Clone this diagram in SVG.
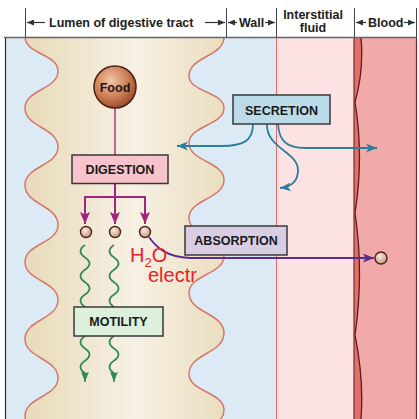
<svg xmlns="http://www.w3.org/2000/svg" width="419" height="419" viewBox="0 0 419 419">
<defs>
<style>
.hdr{font-family:"Liberation Sans",Arial,sans-serif;font-weight:bold;font-size:12.5px;fill:#222;}
.lbl{font-family:"Liberation Sans",Arial,sans-serif;font-weight:bold;font-size:12.5px;fill:#1a1a1a;text-anchor:middle;}
.box{stroke:#383838;stroke-width:1.5;}
.tick{stroke:#444;stroke-width:1;}
.harr{stroke:#333;stroke-width:1.2;marker-end:url(#mHdr);}
.teal{fill:none;stroke:#2d7d9c;stroke-width:1.8;marker-end:url(#mTeal);}
.mag{fill:none;stroke:#a3247c;stroke-width:2;}
.magA{fill:none;stroke:#a3247c;stroke-width:2;marker-end:url(#mMag);}
.green{fill:none;stroke:#2e8a55;stroke-width:1.8;}
.greenA{fill:none;stroke:#2e8a55;stroke-width:1.8;marker-end:url(#mGreen);}
.red{font-family:"Liberation Sans",Arial,sans-serif;font-size:20px;fill:#e8202a;}
.ball{fill:url(#gBall);stroke:#4a2418;stroke-width:1.4;}
.villus{fill:none;stroke:#d4786a;stroke-width:1.5;}
</style>
<linearGradient id="gLumen" x1="0" y1="0" x2="1" y2="0">
<stop offset="0" stop-color="#e8dab9"/>
<stop offset="0.55" stop-color="#f7f1e4"/>
<stop offset="1" stop-color="#ebdebf"/>
</linearGradient>
<radialGradient id="gFood" cx="0.4" cy="0.35" r="0.7">
<stop offset="0" stop-color="#f4c6a6"/>
<stop offset="0.6" stop-color="#c97a52"/>
<stop offset="1" stop-color="#94462a"/>
</radialGradient>
<radialGradient id="gBall" cx="0.4" cy="0.35" r="0.7">
<stop offset="0" stop-color="#f8ece0"/>
<stop offset="1" stop-color="#c49274"/>
</radialGradient>
<marker id="mHdr" viewBox="0 0 7 6" refX="7" refY="3" markerWidth="7" markerHeight="6" markerUnits="userSpaceOnUse" orient="auto"><path d="M0,0 L7,3 L0,6 z" fill="#333"/></marker>
<marker id="mTeal" viewBox="0 0 11 9" refX="11" refY="4.5" markerWidth="11" markerHeight="9" markerUnits="userSpaceOnUse" orient="auto"><path d="M0,0 L11,4.5 L0,9 L3,4.5 z" fill="#2d7d9c"/></marker>
<marker id="mMag" viewBox="0 0 12 10" refX="12" refY="5" markerWidth="12" markerHeight="10" markerUnits="userSpaceOnUse" orient="auto"><path d="M0,0 L12,5 L0,10 L2.5,5 z" fill="#a3247c"/></marker>
<marker id="mGreen" viewBox="0 0 10 8" refX="10" refY="4" markerWidth="10" markerHeight="8" markerUnits="userSpaceOnUse" orient="auto"><path d="M0,0 L10,4 L0,8 L2,4 z" fill="#2e8a55"/></marker>
<marker id="mPur" viewBox="0 0 11 9" refX="11" refY="4.5" markerWidth="11" markerHeight="9" markerUnits="userSpaceOnUse" orient="auto"><path d="M0,0 L11,4.5 L0,9 L2.5,4.5 z" fill="#5a2d8c"/></marker>
</defs>

<rect x="0" y="0" width="419" height="419" fill="#ffffff"/>

<g id="background">
<rect x="5" y="37" width="271" height="382" fill="#dbeaf5"/>
<rect x="276" y="37" width="78" height="382" fill="#fde2e4"/>
<rect x="354" y="37" width="62" height="382" fill="#f2a9a9"/>
<path d="M354,37 L361,37 Q364,70 355,102 Q364,157 355,213 Q364,274 355,335 Q364,380 361,419 L354,419 Z" fill="#e2706a"/>
<path d="M361,37 Q364,70 355,102 Q364,157 355,213 Q364,274 355,335 Q364,380 361,419" fill="none" stroke="#5a1c1c" stroke-width="1.3"/>
<line x1="354" y1="37" x2="354" y2="419" stroke="#7a2a2a" stroke-width="1.2"/>
<line x1="276.5" y1="37" x2="276.5" y2="419" stroke="#e06a6a" stroke-width="1"/>
<line x1="416.5" y1="37" x2="416.5" y2="419" stroke="#6a2a2a" stroke-width="1.2"/>
<line x1="5.5" y1="37" x2="5.5" y2="419" stroke="#3a2a2a" stroke-width="1.2"/>
</g>

<g id="lumen">
<path fill="url(#gLumen)" d="M25,37 C25,54 58,54 58,71 C58,89.5 25,89.5 25,108 C25,127.5 58,127.5 58,147 C58,166 25,166 25,185 C25,205 58,205 58,225 C58,243.5 25,243.5 25,262 C25,281 58,281 58,300 C58,319.5 25,319.5 25,339 C25,358.5 58,358.5 58,378 C58,397 25,397 25,416 C25,435 58,435 58,454 L189,448 C189,429 224,429 224,410 C224,392 189,392 189,374 C189,353.5 224,353.5 224,333 C224,313 189,313 189,293 C189,274.5 224,274.5 224,256 C224,237 189,237 189,218 C189,199 224,199 224,180 C224,161.5 189,161.5 189,143 C189,125.5 224,125.5 224,108 C224,92 189,92 189,76 C189,56.5 224,56.5 224,37 Z"/>
<path class="villus" d="M25,37 C25,54 58,54 58,71 C58,89.5 25,89.5 25,108 C25,127.5 58,127.5 58,147 C58,166 25,166 25,185 C25,205 58,205 58,225 C58,243.5 25,243.5 25,262 C25,281 58,281 58,300 C58,319.5 25,319.5 25,339 C25,358.5 58,358.5 58,378 C58,397 25,397 25,416 C25,435 58,435 58,454"/>
<path class="villus" d="M224,37 C224,56.5 189,56.5 189,76 C189,92 224,92 224,108 C224,125.5 189,125.5 189,143 C189,161.5 224,161.5 224,180 C224,199 189,199 189,218 C189,237 224,237 224,256 C224,274.5 189,274.5 189,293 C189,313 224,313 224,333 C224,353.5 189,353.5 189,374 C189,392 224,392 224,410 C224,429 189,429 189,448"/>
</g>

<g id="header">
<line x1="4" y1="37.5" x2="417" y2="37.5" stroke="#666" stroke-width="1.5"/>
<line class="tick" x1="25.5" y1="8" x2="25.5" y2="37"/>
<line class="tick" x1="226.5" y1="8" x2="226.5" y2="37"/>
<line class="tick" x1="276.5" y1="8" x2="276.5" y2="37"/>
<line class="tick" x1="354.5" y1="8" x2="354.5" y2="37"/>
<line class="tick" x1="416.5" y1="8" x2="416.5" y2="37"/>
<line class="harr" x1="45" y1="22.5" x2="27" y2="22.5"/>
<line class="harr" x1="205" y1="22.5" x2="225" y2="22.5"/>
<line class="harr" x1="237" y1="22.5" x2="228" y2="22.5"/>
<line class="harr" x1="265" y1="22.5" x2="275" y2="22.5"/>
<line class="harr" x1="366" y1="22.5" x2="356" y2="22.5"/>
<line class="harr" x1="404" y1="22.5" x2="415" y2="22.5"/>
<text class="hdr" x="49" y="27">Lumen of digestive tract</text>
<text class="hdr" x="239" y="27">Wall</text>
<text class="hdr" x="313" y="19" text-anchor="middle">Interstitial</text>
<text class="hdr" x="313" y="31.5" text-anchor="middle">fluid</text>
<text class="hdr" x="368" y="27">Blood</text>
</g>

<g id="connectors">
<line x1="115" y1="108" x2="115" y2="155" stroke="#b8357f" stroke-width="1.5"/>
<line class="mag" x1="115" y1="184" x2="115" y2="197"/>
<line class="mag" x1="84" y1="197" x2="146" y2="197"/>
<line class="magA" x1="85" y1="196" x2="85" y2="224"/>
<line class="magA" x1="115" y1="196" x2="115" y2="224"/>
<line class="magA" x1="145" y1="196" x2="145" y2="224"/>
<path class="teal" d="M253,124 C253,141 243,146 222,146 L177,146"/>
<path class="teal" d="M267,124 C266,148 298,152 298,170 C298,182 290,187 280,188"/>
<path class="teal" d="M278,124 C279,142 288,148 305,148 L377,148"/>
<path d="M149,237 C156,247 166,257 190,258 L374,258" fill="none" stroke="#5a2d8c" stroke-width="1.8" marker-end="url(#mPur)"/>
<path class="green" d="M85,245 c-6,4 -6,8.4 0,12.4 s6,8.4 0,12.4 s-6,8.4 0,12.4 s6,8.4 0,12.4 s-6,8.4 0,12.4"/>
<path class="green" d="M114,245 c-6,4 -6,8.4 0,12.4 s6,8.4 0,12.4 s-6,8.4 0,12.4 s6,8.4 0,12.4 s-6,8.4 0,12.4"/>
<path class="greenA" d="M85,336 c-6,4 -6,8.4 0,12.4 s6,8.4 0,12.4 s-6,8.4 0,12.4 l0,8.5"/>
<path class="greenA" d="M114,336 c-6,4 -6,8.4 0,12.4 s6,8.4 0,12.4 s-6,8.4 0,12.4 l0,8.5"/>
</g>

<g id="food">
<circle cx="115" cy="87" r="21" fill="url(#gFood)" stroke="#4a2010" stroke-width="1.5"/>
<text class="lbl" x="115" y="91.5" font-size="12">Food</text>
</g>

<g id="digestion">
<rect class="box" x="72" y="155" width="96" height="28.5" fill="#f7c3cc"/>
<text class="lbl" x="120" y="174">DIGESTION</text>
</g>

<g id="secretion">
<rect class="box" x="233" y="95" width="97" height="29" fill="#bcdbe8"/>
<text class="lbl" x="281.5" y="114.5">SECRETION</text>
</g>

<g id="absorption">
<rect class="box" x="185" y="226" width="102" height="29" fill="#d9cde3"/>
<text class="lbl" x="236" y="245">ABSORPTION</text>
</g>

<g id="motility">
<rect class="box" x="74" y="307" width="89" height="29" fill="#dcf0dc"/>
<text class="lbl" x="118.5" y="326">MOTILITY</text>
</g>

<g id="particles">
<circle class="ball" cx="86" cy="232" r="5.5"/>
<circle class="ball" cx="115" cy="232" r="5.5"/>
<circle class="ball" cx="145" cy="232" r="5.5"/>
<circle class="ball" cx="381" cy="258" r="6"/>
</g>

<g id="labels">
<text class="red" x="130" y="262">H<tspan font-size="13" dy="5">2</tspan><tspan dy="-5">O</tspan></text>
<text class="red" x="148" y="282">electr</text>
</g>
</svg>
